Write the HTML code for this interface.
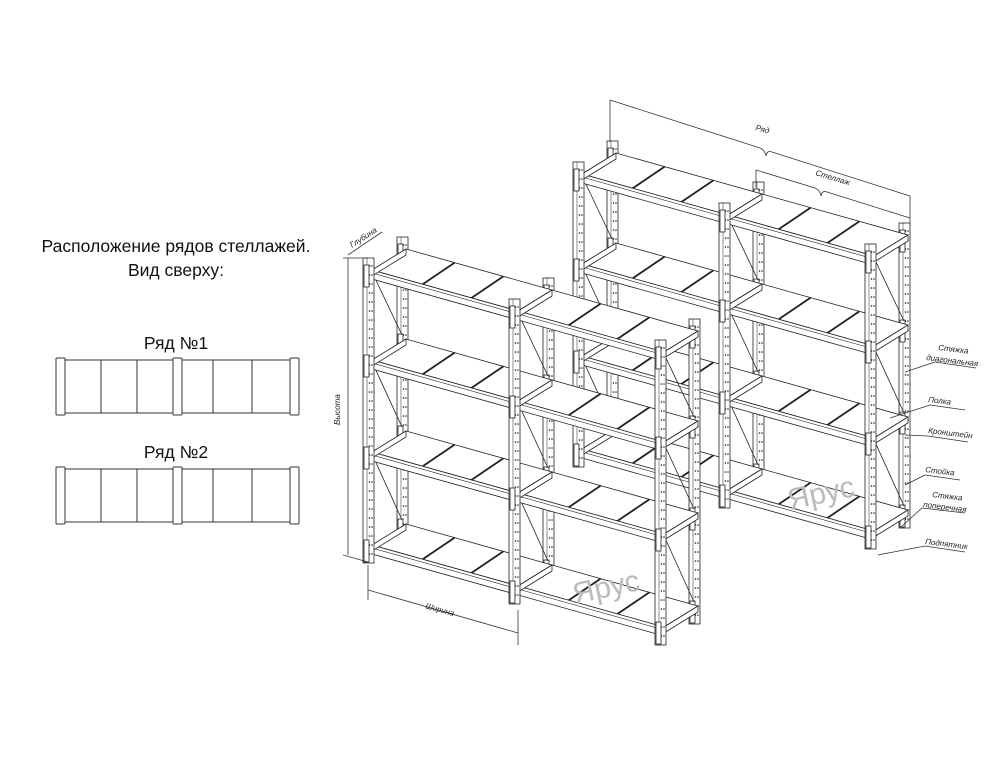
<!DOCTYPE html>
<html><head><meta charset="utf-8"><style>
body{margin:0;background:#fff;width:1001px;height:770px;overflow:hidden;font-family:"Liberation Sans",sans-serif}
svg{position:absolute;left:0;top:0}
.t{font-family:"Liberation Sans",sans-serif;font-size:17.5px;fill:#111;text-anchor:middle}
.s{font-family:"Liberation Sans",sans-serif;font-size:8px;font-style:italic;fill:#222}
</style></head><body>
<svg id="sv" width="1001" height="770" viewBox="0 0 1001 770">
<text class="t" x="176" y="252">Расположение рядов стеллажей.</text>
<text class="t" x="176" y="276">Вид сверху:</text>
<text class="t" x="176" y="349">Ряд №1</text>
<text class="t" x="176" y="458">Ряд №2</text>
<g id="top" fill="none" stroke="#333" stroke-width="1"></g>
<g id="draw" fill="none" stroke="#222" stroke-width="0.8"></g>
<text x="575" y="604" font-size="30" fill="#bbb" font-family="Liberation Sans" transform="rotate(-12 575 604)">Ярус</text>
<text x="790" y="510" font-size="30" fill="#bbb" font-family="Liberation Sans" transform="rotate(-12 790 510)">Ярус</text>
<g fill="none" stroke="#333" stroke-width="0.8">
<path d="M610,142 L610,100 L760,148 Q765,150 766,156 Q767,150 772,152 L910,196 L910,225"/>
<path d="M756,188 L756,170 L815,188 Q820,190 821,196 Q822,190 827,192 L910,218"/>
<line x1="348" y1="258" x2="348" y2="555"/><line x1="343" y1="258" x2="368" y2="258"/><line x1="343" y1="555" x2="368" y2="562"/>
<line x1="348" y1="255" x2="382" y2="232"/>
<line x1="368" y1="565" x2="368" y2="600"/><line x1="518" y1="610" x2="518" y2="645"/>
<line x1="368" y1="590" x2="518" y2="633"/>
<line x1="905" y1="372" x2="935" y2="362"/><line x1="935" y1="362" x2="976" y2="368"/>
<line x1="890" y1="418" x2="930" y2="405"/><line x1="930" y1="405" x2="965" y2="410"/>
<line x1="905" y1="435" x2="928" y2="436"/><line x1="928" y1="436" x2="968" y2="442"/>
<line x1="905" y1="485" x2="925" y2="475"/><line x1="925" y1="475" x2="960" y2="480"/>
<line x1="900" y1="528" x2="922" y2="508"/><line x1="922" y1="508" x2="965" y2="513"/>
<line x1="878" y1="555" x2="925" y2="546"/><line x1="925" y1="546" x2="965" y2="552"/>
</g>
<text class="s" x="755" y="130" transform="rotate(15 755 130)">Ряд</text>
<text class="s" x="815" y="175" transform="rotate(17 815 175)">Стеллаж</text>
<text class="s" x="340" y="425" transform="rotate(-90 340 425)">Высота</text>
<text class="s" x="425" y="608" transform="rotate(16 425 608)">Ширина</text>
<text class="s" x="352" y="248" transform="rotate(-33 352 248)">Глубина</text>
<text class="s" x="938" y="350" transform="rotate(7 938 350)">Стяжка</text>
<text class="s" x="926" y="360" transform="rotate(7 926 360)">диагональная</text>
<text class="s" x="928" y="402" transform="rotate(7 928 402)">Полка</text>
<text class="s" x="928" y="433" transform="rotate(7 928 433)">Кронштейн</text>
<text class="s" x="925" y="472" transform="rotate(7 925 472)">Стойка</text>
<text class="s" x="932" y="497" transform="rotate(7 932 497)">Стяжка</text>
<text class="s" x="923" y="507" transform="rotate(7 923 507)">поперечная</text>
<text class="s" x="925" y="544" transform="rotate(7 925 544)">Подпятник</text>
</svg>
<script>
var NS="http://www.w3.org/2000/svg";
function el(g,tag,a){var e=document.createElementNS(NS,tag);for(var k in a)e.setAttribute(k,a[k]);g.appendChild(e);return e;}
var G=document.getElementById('draw'),T=document.getElementById('top');
[[360],[469]].forEach(function(r){var y=r[0],h=53;
 el(T,'rect',{x:61,y:y,width:235,height:h});
 [101,137,213,252].forEach(function(x){el(T,'line',{x1:x,y1:y,x2:x,y2:y+h});});
 [56,173,290].forEach(function(x){el(T,'rect',{x:x,y:y-2,width:9,height:h+4,fill:'#fff',rx:1});});
});
function P(p){return p[0].toFixed(1)+','+p[1].toFixed(1);}
function add(a,b,k){if(k===undefined)k=1;return [a[0]+b[0]*k,a[1]+b[1]*k];}
function poly(pts,a){a=a||{};a.points=pts.map(P).join(' ');return el(G,'polygon',a);}
function ln(a,b,w){return el(G,'line',{x1:a[0],y1:a[1],x2:b[0],y2:b[1],'stroke-width':w||0.8});}
var F=[146,41],D=[34,-21],Ls=[12,102,194,287],H=305;
function post(p){
 el(G,'rect',{x:p[0]-5,y:p[1],width:11,height:H,fill:'#fff'});
 ln([p[0]-1,p[1]],[p[0]-1,p[1]+H],0.5);
 for(var y=p[1]+8;y<p[1]+H-6;y+=9){el(G,'circle',{cx:p[0]+1.5,cy:y,r:0.8,fill:'#222',stroke:'none'});el(G,'circle',{cx:p[0]+4,cy:y,r:0.8,fill:'#222',stroke:'none'});}
 Ls.forEach(function(L){el(G,'rect',{x:p[0]-4,y:p[1]+L-5,width:5,height:22,fill:'#fff'});});
}
function row(O){
 var i,j;
 for(i=0;i<3;i++)post(add(add(O,F,i),D));
 for(i=0;i<3;i++){var f=add(O,F,i),b=add(f,D);
  for(j=0;j<3;j++){ln(add(f,[5,Ls[j]+4]),add(b,[0,Ls[j+1]-4]));}
 }
 Ls.forEach(function(L){
  for(i=0;i<2;i++){
   var A=add(add(O,F,i),[4,L]),B=add(A,F);
   poly([A,B,add(B,D),add(A,D)],{fill:'#fff'});
   for(j=1;j<3;j++){var q=add(A,F,j/3);ln(add(q,[0,2]),add(q,D),1.8);}
   poly([A,B,add(B,[0,9]),add(A,[0,9])],{fill:'#fff'});
   ln(add(A,[0,3]),add(B,[0,3]),0.6);
  }
  for(i=0;i<3;i++){var f=add(add(O,F,i),[4,L]);poly([f,add(f,D),add(add(f,D),[0,6]),add(f,[0,6])],{fill:'#fff'});}
 });
 for(i=0;i<3;i++)post(add(O,F,i));
}
row([578,162]);
row([368,258]);
</script>
</body></html>
